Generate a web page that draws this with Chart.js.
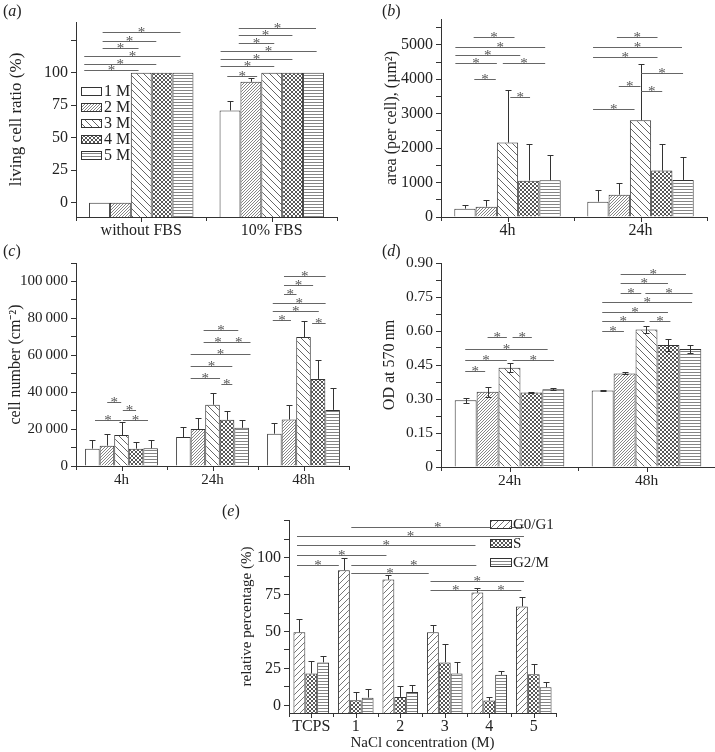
<!DOCTYPE html>
<html>
<head>
<meta charset="utf-8">
<script src="https://cdn.jsdelivr.net/npm/chart.js@4.4.1/dist/chart.umd.min.js"></script>
<style>
  body { margin: 0; background: #fff; width: 715px; height: 752px; position: relative; overflow: hidden; }
  .panel { position: absolute; }
  .tag { position: absolute; font: 16px 'Liberation Serif', serif; color: #222; }
</style>
</head>
<body>
<div class="panel" style="left:0;top:0;width:355px;height:240px"><canvas id="ca"></canvas></div>
<div class="panel" style="left:355px;top:0;width:360px;height:240px"><canvas id="cb"></canvas></div>
<div class="panel" style="left:0;top:240px;width:355px;height:252px"><canvas id="cc"></canvas></div>
<div class="panel" style="left:355px;top:240px;width:360px;height:252px"><canvas id="cd"></canvas></div>
<div class="panel" style="left:170px;top:495px;width:400px;height:257px"><canvas id="ce"></canvas></div>
<div class="tag" style="left:3px;top:2px">(<i>a</i>)</div>
<div class="tag" style="left:382px;top:2px">(<i>b</i>)</div>
<div class="tag" style="left:3px;top:242px">(<i>c</i>)</div>
<div class="tag" style="left:382px;top:242px">(<i>d</i>)</div>
<div class="tag" style="left:222px;top:502px">(<i>e</i>)</div>
<script>
// ---- data ----
const concNames = ['1 M', '2 M', '3 M', '4 M', '5 M'];

// (a) living cell ratio (%)
const aLabels = ['without FBS', '10% FBS'];
const aM1 = [0, 71], aM2 = [0, 93], aM3 = [100, 100], aM4 = [100, 100], aM5 = [100, 100];
const aErr = [[0, 7], [0, 3], [0, 0], [0, 0], [0, 0]];
const aYTicks = [0, 25, 50, 75, 100, 125];
const aYLabels = ['0', '25', '50', '75', '100', ''];
// [category, from bar, to bar, value]
const aSig = [
  [0, -0.73, 1.87, 101.8], [0, -0.73, 2.72, 107], [0, -0.73, 3.88, 112.8],
  [0, 0.15, 1.87, 118.7], [0, 0.15, 2.72, 124.6], [0, 0.15, 3.88, 131.2],
  [1, -0.13, 1.3, 97.4], [1, -0.45, 2.12, 105], [1, -0.45, 2.99, 110.8], [1, -0.45, 4.15, 116.6],
  [1, 0.42, 2.12, 122.5], [1, 0.42, 2.99, 128.7], [1, 0.42, 4.12, 134.6]
];

// (b) area per cell (um2)
const bLabels = ['4h', '24h'];
const bM1 = [242, 446], bM2 = [300, 649], bM3 = [2161, 2810], bM4 = [1056, 1347], bM5 = [1066, 1076];
const bErr = [[117, 349], [194, 349], [1519, 1640], [1076, 785], [727, 658]];
const bYTicks = [0, 500, 1000, 1500, 2000, 2500, 3000, 3500, 4000, 4500, 5000, 5500];
const bYLabels = ['0', '', '1000', '', '2000', '', '3000', '', '4000', '', '5000', ''];
const bSig = [
  [0, 0.44, 1.45, 4000], [0, 2.13, 3.06, 3476], [0, -0.45, 1.5, 4466], [0, 1.78, 3.77, 4466],
  [0, -0.45, 2.6, 4699], [0, -0.45, 3.77, 4932], [0, 0.41, 2.33, 5214],
  [1, -0.23, 1.72, 3126], [1, 0.98, 2, 3806], [1, 2.03, 3.02, 3660], [1, 2.03, 4.0, 4194],
  [1, -0.23, 2.8, 4641], [1, -0.23, 3.95, 4932], [1, 0.89, 2.8, 5223]
];

// (c) cell number (cm-2)
const cLabels = ['4h', '24h', '48h'];
const cM1 = [9400, 15700, 17500], cM2 = [11000, 20000, 25200], cM3 = [16800, 33200, 69900];
const cM4 = [9400, 25000, 47200], cM5 = [9600, 20700, 30400];
const cErr = [[4800, 5200, 5900], [6500, 6100, 7600], [7300, 6300, 8500], [3600, 4700, 10500], [4600, 4300, 11600]];
const cYTicks = [0, 10000, 20000, 30000, 40000, 50000, 60000, 70000, 80000, 90000, 100000, 110000];
const cYLabels = ['0', '', '20\u2009000', '', '40\u2009000', '', '60\u2009000', '', '80\u2009000', '', '100\u2009000', ''];
const cSig = [
  [0, 0.18, 1.98, 24685], [0, 1.02, 1.98, 34595], [0, 2.09, 3.0, 30090], [0, 2.09, 3.82, 24685],
  [1, 0.5, 2.52, 47748], [1, 2.61, 3.36, 44505], [1, 0.5, 3.36, 54054], [1, 0.5, 4.61, 60540],
  [1, 1.39, 3.36, 67207], [1, 2.98, 4.61, 67207], [1, 1.39, 3.77, 73693],
  [2, 2.59, 3.52, 77657], [2, -0.11, 1.14, 79099], [2, -0.11, 3.05, 84144], [2, -0.11, 3.52, 88468],
  [2, 0.66, 1.52, 93153], [2, 0.66, 2.66, 98018], [2, 0.66, 3.52, 103063]
];

// (d) OD at 570 nm
const dLabels = ['24h', '48h'];
const dM1 = [0.294, 0.337], dM2 = [0.332, 0.413], dM3 = [0.438, 0.607], dM4 = [0.329, 0.538], dM5 = [0.343, 0.521];
const dErr = [[0.011, 0.002], [0.022, 0.004], [0.019, 0.017], [0.004, 0.026], [0.004, 0.017]];
const dYTicks = [0, 0.075, 0.15, 0.225, 0.3, 0.375, 0.45, 0.525, 0.6, 0.675, 0.75, 0.825, 0.9];
const dYLabels = ['0', '', '0.15', '', '0.30', '', '0.45', '', '0.60', '', '0.75', '', '0.90'];
const dSig = [
  [0, -0.02, 0.89, 0.424], [0, -0.02, 1.88, 0.472], [0, -0.02, 3.74, 0.519],
  [0, 1.0, 1.88, 0.572], [0, 2.14, 3.02, 0.572], [0, 2.14, 4.03, 0.472],
  [1, -0.02, 0.97, 0.599], [1, -0.02, 1.91, 0.644], [1, 2.14, 3.09, 0.644], [1, -0.02, 2.98, 0.685],
  [1, -0.02, 4.08, 0.728], [1, 0.82, 1.76, 0.769], [1, 1.95, 4.1, 0.769], [1, 0.82, 2.98, 0.810],
  [1, 0.82, 3.8, 0.851]
];

// (e) cell cycle, relative percentage (%)
const eLabels = ['TCPS', '1', '2', '3', '4', '5'];
const eNames = ['G0/G1', 'S', 'G2/M'];
const eG0G1 = [49.5, 91.6, 85.2, 49.5, 76.4, 67.0];
const eS = [21.6, 3.4, 5.7, 29.1, 3.2, 21.1];
const eG2M = [29.1, 5.2, 9.1, 21.6, 20.7, 12.3];
const eErr = [[8.9, 8.2, 3.2, 5.0, 3.4, 6.4], [8.6, 5.7, 7.5, 12.3, 2.7, 6.6], [4.5, 6.2, 5.0, 7.9, 2.3, 3.2]];
const eYTicks = [0, 12.5, 25, 37.5, 50, 62.5, 75, 87.5, 100, 112.5, 125];
const eYLabels = ['0', '', '25', '', '50', '', '75', '', '100', '', ''];
// [from category, to category, value]
const eSig = [
  [-0.32, 0.62, 95], [-0.32, 1.69, 101.8], [-0.32, 3.69, 108.4], [-0.32, 4.78, 114.8],
  [0.90, 4.78, 121.1], [0.90, 3.71, 94.8], [0.90, 2.64, 89.8], [2.68, 4.78, 84.5],
  [2.68, 3.81, 78], [3.81, 4.72, 78]
];

// ---- fills ----
function hatch(kind, size, color) {
  const c = document.createElement('canvas');
  c.width = c.height = size;
  const g = c.getContext('2d');
  g.fillStyle = '#fff';
  g.fillRect(0, 0, size, size);
  g.strokeStyle = color;
  g.lineWidth = 0.9;
  g.beginPath();
  const fwd = () => {
    g.moveTo(0, size); g.lineTo(size, 0);
    g.moveTo(-size, size); g.lineTo(size, -size);
    g.moveTo(0, 2 * size); g.lineTo(2 * size, 0);
  };
  const back = () => {
    g.moveTo(0, 0); g.lineTo(size, size);
    g.moveTo(-size, 0); g.lineTo(size, 2 * size);
    g.moveTo(0, -size); g.lineTo(2 * size, size);
  };
  if (kind === 'fwd') fwd();
  if (kind === 'back') back();
  if (kind === 'cross') { fwd(); back(); }
  if (kind === 'horiz') { g.moveTo(0, 0.5); g.lineTo(size, 0.5); }
  g.stroke();
  return g.createPattern(c, 'repeat');
}
const concFills = [
  '#fff',
  hatch('fwd', 3, '#777'),
  hatch('back', 7, '#555'),
  hatch('cross', 4, '#444'),
  hatch('horiz', 3, '#777')
];
const cycleFills = [hatch('fwd', 6, '#666'), hatch('cross', 4, '#444'), hatch('horiz', 3, '#777')];

// ---- drawing ----
Chart.defaults.font.family = "'Liberation Serif', 'Times New Roman', serif";
Chart.defaults.color = '#222';

const extraCfg = {};
const extras = {
  id: 'extras',
  afterDatasetsDraw(chart) {
    const p = extraCfg[chart.canvas.id];
    const { ctx } = chart;
    const x = chart.scales.x, y = chart.scales.y;
    const n = chart.data.datasets.length;
    ctx.save();
    ctx.lineWidth = 1;
    ctx.strokeStyle = '#333';
    p.errors.forEach((errs, di) => {
      chart.getDatasetMeta(di).data.forEach((bar, i) => {
        const sd = errs[i];
        if (!sd) return;
        const v = chart.data.datasets[di].data[i];
        const cx = Math.round(bar.x) + 0.5;
        const top = Math.round(y.getPixelForValue(v + sd)) + 0.5;
        const bot = p.both ? Math.round(y.getPixelForValue(v - sd)) + 0.5 : bar.y;
        ctx.beginPath();
        ctx.moveTo(cx, bot); ctx.lineTo(cx, top);
        ctx.moveTo(cx - p.cap, top); ctx.lineTo(cx + p.cap, top);
        if (p.both) { ctx.moveTo(cx - p.cap, bot); ctx.lineTo(cx + p.cap, bot); }
        ctx.stroke();
      });
    });
    ctx.beginPath();
    chart.data.labels.forEach((l, i) => {
      const cx = Math.round(x.getPixelForValue(i)) + 0.5;
      ctx.moveTo(cx, x.top); ctx.lineTo(cx, x.top + 5);
    });
    ctx.stroke();

    ctx.strokeStyle = '#666';
    ctx.fillStyle = '#555';
    ctx.font = "15px 'Liberation Serif'";
    ctx.textAlign = 'center';
    ctx.textBaseline = 'alphabetic';
    p.sig.forEach(b => {
      let c0, c1, v;
      if (b.length === 4) {
        const mid = (n - 1) / 2, u = p.catPct / n;
        c0 = b[0] + (b[1] - mid) * u; c1 = b[0] + (b[2] - mid) * u; v = b[3];
      } else {
        [c0, c1, v] = b;
      }
      const x0 = x.getPixelForValue(c0), x1 = x.getPixelForValue(c1);
      const yy = Math.round(y.getPixelForValue(v)) + 0.5;
      ctx.beginPath(); ctx.moveTo(x0, yy); ctx.lineTo(x1, yy); ctx.stroke();
      ctx.fillText('*', (x0 + x1) / 2, yy + 4);
    });

    const L = p.legend;
    if (L) {
      ctx.font = `${L.fs}px 'Liberation Serif'`;
      ctx.textAlign = 'left';
      ctx.textBaseline = 'middle';
      chart.data.datasets.forEach((ds, i) => {
        const cy = Math.round(L.y + i * L.dy);
        ctx.fillStyle = ds.backgroundColor;
        ctx.fillRect(L.x, cy - L.h / 2, L.w, L.h);
        ctx.strokeStyle = '#333';
        ctx.strokeRect(L.x + 0.5, cy - L.h / 2 + 0.5, L.w, L.h);
        ctx.fillStyle = '#222';
        ctx.fillText(ds.label, L.x + L.w + L.gap, cy + 1);
      });
    }
    ctx.restore();
  }
};

function barChart(id, p) {
  extraCfg[id] = p;
  return new Chart(document.getElementById(id), {
    type: 'bar',
    data: {
      labels: p.labels,
      datasets: p.series.map((s, i) => ({
        label: p.names[i],
        data: s,
        backgroundColor: p.fills[i],
        borderColor: '#333',
        borderWidth: 1,
        base: p.min,
        categoryPercentage: p.catPct,
        barPercentage: 1
      }))
    },
    options: {
      responsive: true,
      maintainAspectRatio: false,
      animation: false,
      layout: { padding: { left: 0, top: p.top, right: p.right, bottom: 0 } },
      plugins: { legend: { display: false }, tooltip: { enabled: false } },
      scales: {
        x: {
          grid: { offset: true, drawOnChartArea: false, tickLength: 4, color: '#333' },
          border: { color: '#333' },
          ticks: { font: { size: p.fs }, padding: p.xPad, maxRotation: 0 },
          title: p.xTitle
            ? { display: true, text: p.xTitle, font: { size: p.tfs, lineHeight: 1 }, padding: { top: 0, bottom: 1 } }
            : { display: false },
          afterFit: s => { s.height = p.xH; }
        },
        y: {
          min: p.min,
          max: p.max,
          grid: { drawOnChartArea: false, tickLength: 5, color: '#333' },
          border: { color: '#333' },
          ticks: { font: { size: p.fs }, padding: 3, autoSkip: false, callback: (v, i) => p.yLabels[i] },
          afterBuildTicks: s => { s.ticks = p.yTicks.map(v => ({ value: v })); },
          title: { display: true, text: p.yTitle, font: { size: p.tfs }, padding: { top: p.yTitlePad, bottom: 0 } },
          afterFit: s => { s.width = p.yW; }
        }
      }
    },
    plugins: [extras]
  });
}

barChart('ca', {
  labels: aLabels, names: concNames, fills: concFills,
  series: [aM1, aM2, aM3, aM4, aM5], errors: aErr, sig: aSig,
  min: -11, max: 139, yTicks: aYTicks, yLabels: aYLabels,
  yTitle: 'living cell ratio (%)', yTitlePad: 6, yW: 76,
  top: 22, right: 18, xH: 23, xPad: 0, fs: 16, tfs: 17, catPct: 0.8, cap: 3,
  legend: { x: 81, y: 90.7, dy: 16.1, w: 20, h: 8, gap: 3, fs: 16 }
});

barChart('cb', {
  labels: bLabels, names: concNames, fills: concFills,
  series: [bM1, bM2, bM3, bM4, bM5], errors: bErr, sig: bSig,
  min: 0, max: 5750, yTicks: bYTicks, yLabels: bYLabels,
  yTitle: 'area (per cell), (\u00b5m\u00b2)', yTitlePad: 27, yW: 86,
  top: 19, right: 8, xH: 23, xPad: 0, fs: 16, tfs: 16, catPct: 0.8, cap: 3
});

barChart('cc', {
  labels: cLabels, names: concNames, fills: concFills,
  series: [cM1, cM2, cM3, cM4, cM5], errors: cErr, sig: cSig,
  min: 0, max: 110000, yTicks: cYTicks, yLabels: cYLabels,
  yTitle: 'cell number (cm\u207b\u00b2)', yTitlePad: 6, yW: 76,
  top: 23, right: 6, xH: 26, xPad: 1, fs: 15, tfs: 16, catPct: 0.8, cap: 3
});

barChart('cd', {
  labels: dLabels, names: concNames, fills: concFills,
  series: [dM1, dM2, dM3, dM4, dM5], errors: dErr, sig: dSig, both: true,
  min: 0, max: 0.9, yTicks: dYTicks, yLabels: dYLabels,
  yTitle: 'OD at 570\u2009nm', yTitlePad: 25, yW: 86,
  top: 23, right: 0, xH: 25, xPad: 1, fs: 15.5, tfs: 16, catPct: 0.8, cap: 3
});

barChart('ce', {
  labels: eLabels, names: eNames, fills: cycleFills,
  series: [eG0G1, eS, eG2M], errors: eErr, sig: eSig,
  min: -5.2, max: 125.6, yTicks: eYTicks, yLabels: eYLabels,
  yTitle: 'relative percentage (%)', yTitlePad: 68, yW: 119,
  xTitle: 'NaCl concentration (M)',
  top: 25, right: 14, xH: 39, xPad: 0, fs: 16, tfs: 15, catPct: 0.8, cap: 3,
  legend: { x: 320, y: 28.5, dy: 19, w: 21, h: 8, gap: 2, fs: 15 }
});
</script>
</body>
</html>
